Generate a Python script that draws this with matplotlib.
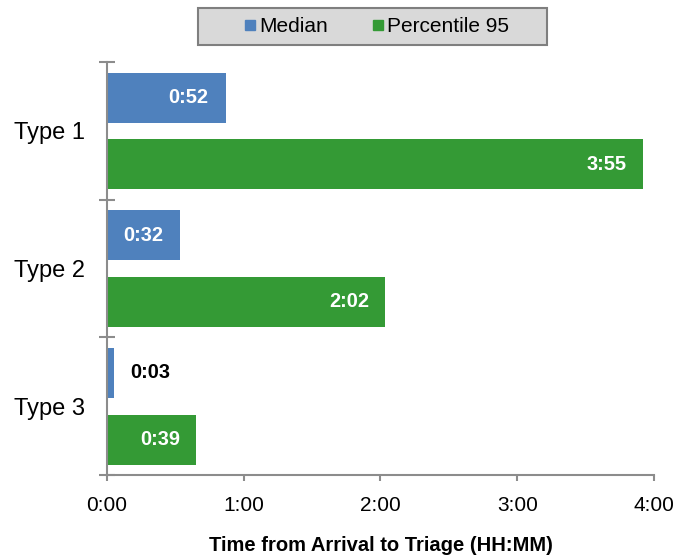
import matplotlib

matplotlib.use("Agg")
import matplotlib.pyplot as plt
from matplotlib.lines import Line2D
from matplotlib.patches import Rectangle
from matplotlib.ticker import FixedLocator, FuncFormatter

plt.rcParams["font.family"] = ["Liberation Sans", "DejaVu Sans"]

# minutes from arrival to triage
CATEGORIES = ["Type 1", "Type 2", "Type 3"]
MEDIAN = [52, 32, 3]
P95 = [235, 122, 39]
SERIES = ["Median", "Percentile 95"]

BLUE = "#4F81BD"
GREEN = "#349A35"
AXIS = "#8c8c8c"


def hhmm(m, _pos=None):
    m = int(round(m))
    return f"{m // 60}:{m % 60:02d}"


fig = plt.figure(figsize=(6.92, 5.55), dpi=100, facecolor="white")
ax = fig.add_axes((0.1546, 0.144, 0.7905, 0.744))

n = len(CATEGORIES)
centers = [n - 1 - i + 0.5 for i in range(n)]
h = 0.363
off = 0.242
ax.barh([c + off for c in centers], MEDIAN, height=h, color=BLUE, zorder=2)
ax.barh([c - off for c in centers], P95, height=h, color=GREEN, zorder=2)

# value labels: inside the bar end, outside when the bar is too short
lab = dict(va="center", fontsize=14.4, weight="bold")
for c, v in zip(centers, MEDIAN):
    if v < 20:
        ax.text(v + 7, c + off, hhmm(v), ha="left", color="black", **lab)
    else:
        ax.text(v - 7.5, c + off, hhmm(v), ha="right", color="white", **lab)
for c, v in zip(centers, P95):
    ax.text(v - 7, c - off, hhmm(v), ha="right", color="white", **lab)

ax.set_xlim(0, 240)
ax.set_ylim(0, n)
ax.xaxis.set_major_locator(FixedLocator([0, 60, 120, 180, 240]))
ax.xaxis.set_major_formatter(FuncFormatter(hhmm))
ax.set_yticks(range(n + 1))
ax.set_yticklabels([])
ax.set_yticks(centers, minor=True)
ax.set_yticklabels(CATEGORIES, minor=True, fontsize=17)
ax.tick_params(axis="y", which="minor", length=0, pad=16)
ax.tick_params(axis="y", which="major", direction="inout", length=11,
               width=1.5, color=AXIS)
ax.tick_params(axis="x", direction="out", length=4, width=1.5,
               color=AXIS, labelsize=15, pad=11)

for s in ("top", "right"):
    ax.spines[s].set_visible(False)
for s in ("left", "bottom"):
    ax.spines[s].set_color(AXIS)
    ax.spines[s].set_linewidth(1.5)

ax.set_xlabel("Time from Arrival to Triage (HH:MM)", fontsize=14.5,
              weight="bold", labelpad=15)

# legend: grey box drawn separately so it can be wider than its entries
fig.patches.append(Rectangle((198 / 692, 1 - 45 / 555), 349 / 692, 37 / 555,
                             transform=fig.transFigure, facecolor="#d9d9d9",
                             edgecolor="#7f7f7f", linewidth=1.5, zorder=0))
handles = [Line2D([], [], marker="s", linestyle="", markersize=7,
                  markerfacecolor=col, markeredgecolor=col)
           for col in (BLUE, GREEN)]
fig.legend(handles, SERIES, loc="center", bbox_to_anchor=(0.544, 0.952),
           ncol=2, fontsize=15, frameon=False,
           handlelength=0.6, handletextpad=0.15,
           columnspacing=2.1, borderpad=0.0, borderaxespad=0)

fig.savefig("out.png", dpi=100, facecolor="white")
